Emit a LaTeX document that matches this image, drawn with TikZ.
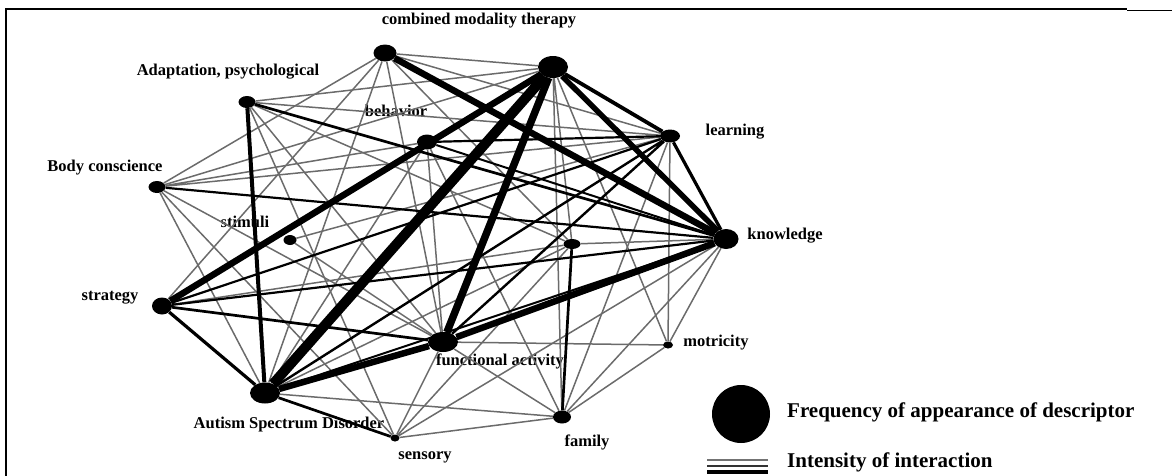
\documentclass[tikz,border=0pt]{standalone}
\usepackage{fontspec}
\setmainfont{Liberation Serif}
\usetikzlibrary{shapes.geometric}

\begin{document}
\begin{tikzpicture}[
  x=1pt, y=-1pt,
  term/.style={ellipse, fill=black, inner sep=0pt},
  lbl/.style={font=\fontsize{16.5}{18}\selectfont\bfseries, inner sep=0pt},
  key/.style={font=\fontsize{21}{24}\selectfont\bfseries, inner sep=0pt, anchor=west},
  tie/.style={line width=#1, black},
  weak/.style={line width=1.5pt, black!58}
]
\useasboundingbox (0,0) rectangle (1172,475);
% frame
\draw[line width=2.5pt] (6,476) -- (6,9) -- (1127,9);
\draw[line width=0.8pt] (1127,10) -- (1172,10);

% descriptors
\node[term, minimum width=23pt, minimum height=17pt] (cmt) at (385,53) {};
\node[term, minimum width=30pt, minimum height=22pt] (hub) at (553,67) {};
\node[term, minimum width=17pt, minimum height=12pt] (adapt) at (247,102) {};
\node[term, minimum width=20pt, minimum height=15pt] (behav) at (427,142) {};
\node[term, minimum width=20pt, minimum height=13pt] (learn) at (670,136) {};
\node[term, minimum width=17pt, minimum height=12pt] (body) at (157,187) {};
\node[term, minimum width=13pt, minimum height=10pt] (stim) at (290,240) {};
\node[term, minimum width=17pt, minimum height=10pt] (mid) at (572,244) {};
\node[term, minimum width=25pt, minimum height=20pt] (know) at (726,239) {};
\node[term, minimum width=20pt, minimum height=17pt] (strat) at (162,306) {};
\node[term, minimum width=30pt, minimum height=20pt] (func) at (443,342) {};
\node[term, minimum width=10pt, minimum height=7pt] (motr) at (668,345) {};
\node[term, minimum width=30pt, minimum height=21pt] (asd) at (265,393) {};
\node[term, minimum width=9pt, minimum height=7pt] (sens) at (395,438) {};
\node[term, minimum width=18pt, minimum height=13pt] (fam) at (562,417) {};

\node[lbl] (cmt-t) at (479,21) {combined modality therapy};
\node[lbl] (adapt-t) at (228,72) {Adaptation, psychological};
\node[lbl] (behav-t) at (396,111) {behavior};
\node[lbl] (learn-t) at (735,132) {learning};
\node[lbl] (body-t) at (105,168) {Body conscience};
\node[lbl] (stim-t) at (245,222) {stimuli};
\node[lbl] (know-t) at (785,236) {knowledge};
\node[lbl] (strat-t) at (110,298) {strategy};
\node[lbl] (func-t) at (500,361) {functional activity};
\node[lbl] (motr-t) at (716,343) {motricity};
\node[lbl] (asd-t) at (289,425) {Autism Spectrum Disorder};
\node[lbl] (sens-t) at (425,457) {sensory};
\node[lbl] (fam-t) at (587,442) {family};

% weak interactions
\draw[weak] (cmt) -- (hub) (cmt) -- (learn) (cmt) -- (strat) (cmt) -- (asd)
  (cmt) -- (func) (cmt) -- (body) (cmt) -- (mid);
\draw[weak] (hub) -- (adapt) (hub) -- (body) (hub) -- (fam) (hub) -- (motr) (hub) -- (mid);
\draw[weak] (adapt) -- (learn) (adapt) -- (func) (adapt) -- (mid) (adapt) -- (sens);
\draw[weak] (body) -- (learn) (body) -- (sens) (body) -- (asd) (body) -- (func) (body) -- (behav);
\draw[weak] (behav) -- (asd) (behav) -- (strat) (behav) -- (fam) (behav) -- (func);
\draw[weak] (stim) -- (learn) (stim) -- (func) (strat) -- (mid) (asd) -- (fam) (asd) -- (mid);
\draw[weak] (func) -- (motr) (func) -- (sens) (func) -- (fam);
\draw[weak] (sens) -- (fam) (sens) -- (know) (sens) -- (mid);
\draw[weak] (fam) -- (know) (fam) -- (motr) (fam) -- (learn);
\draw[weak] (motr) -- (know) (motr) -- (learn) (know) -- (mid);

% strong interactions
\draw[tie=2pt] (asd) -- (know) (behav) -- (know);
\draw[tie=2.2pt] (strat) -- (learn) (body) -- (know) (strat) -- (know) (behav) -- (learn);
\draw[tie=2.4pt] (asd) -- (learn) (func) -- (learn);
\draw[tie=2.7pt] (adapt) -- (know) (strat) -- (func) (asd) -- (sens) (mid) -- (fam);
\draw[tie=3.2pt] (asd) -- (strat) (learn) -- (know);
\draw[tie=3.8pt] (hub) -- (learn);
\draw[tie=4pt] (adapt) -- (asd);
\draw[tie=5.5pt] (hub) -- (know);
\draw[tie=6.5pt] (hub) -- (strat) (cmt) -- (know) (func) -- (know) (asd) -- (func);
\draw[tie=7.5pt] (hub) -- (func);
\draw[tie=10pt] (hub) -- (asd);

% legend
\node[circle, fill=black, minimum size=58pt, inner sep=0pt] (dot) at (741,414) {};
\node[key] (dot-t) at (787,412) {Frequency of appearance of descriptor};
\coordinate (bar) at (707,460);
\draw[line width=1.5pt, black!55] (bar) -- ++(61,0);
\draw[line width=2.5pt, black!80] ([yshift=-6pt]bar) -- ++(61,0);
\draw[line width=3.5pt] ([yshift=-12pt]bar) -- ++(61,0);
\node[key] (bar-t) at (787,462) {Intensity of interaction};
\end{tikzpicture}
\end{document}
